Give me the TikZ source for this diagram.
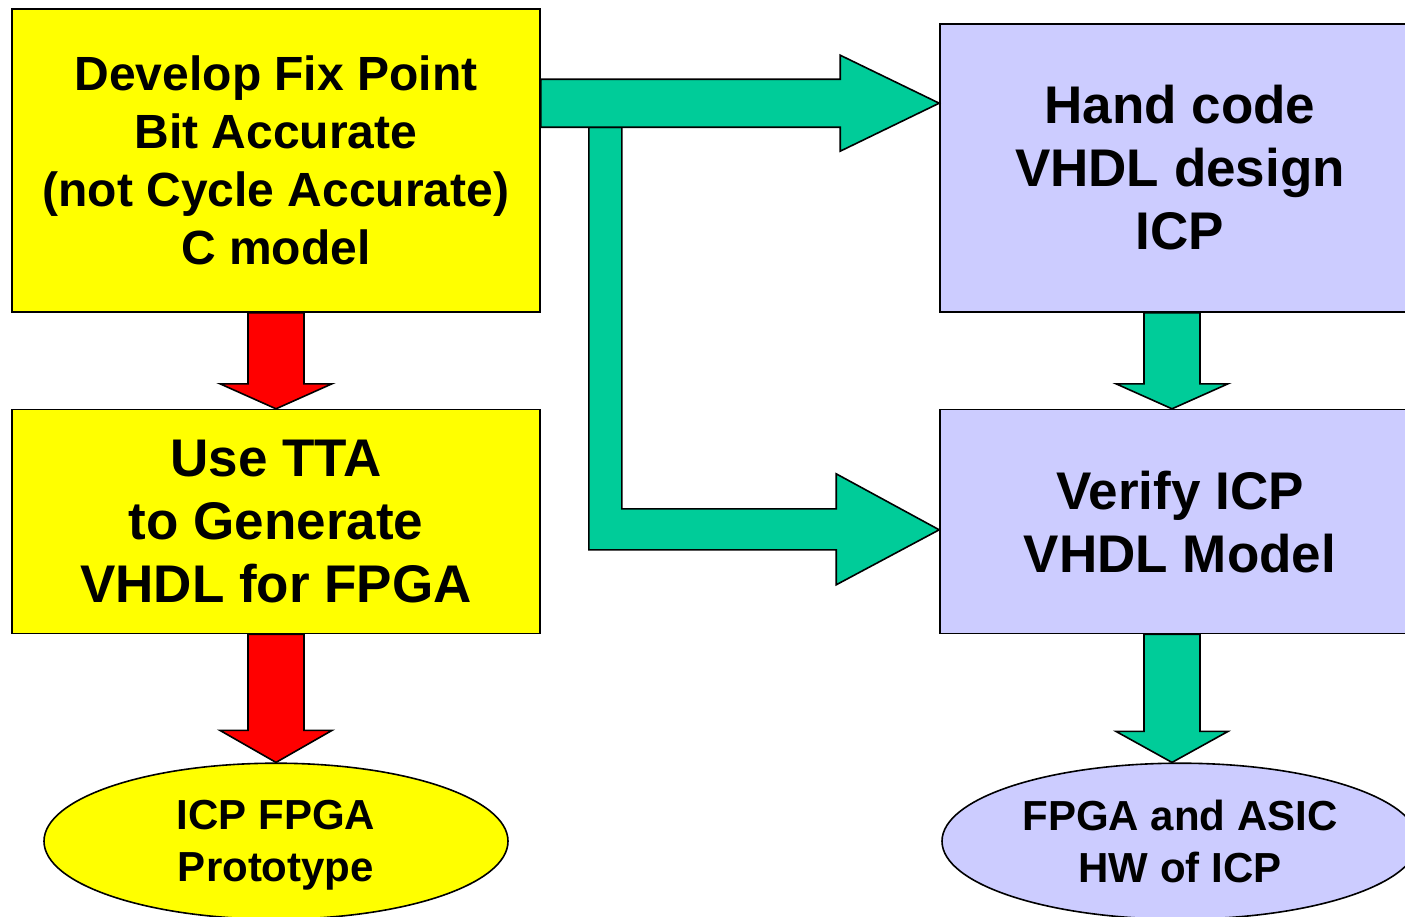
\documentclass[tikz,border=0pt]{standalone}
\usepackage{fontspec}
\setmainfont{Liberation Sans}
\usetikzlibrary{positioning,shapes.geometric,calc}
\definecolor{boxyellow}{HTML}{FFFF00}
\definecolor{boxblue}{HTML}{CCCCFF}
\definecolor{flowgreen}{HTML}{00CC99}
\definecolor{flowred}{HTML}{FF0000}
\def\gap{96pt}
\def\ovalgap{128pt}
\tikzstyle{stage}=[draw,rectangle,line width=1.6pt,align=center,inner sep=0pt]
\tikzstyle{result}=[draw,ellipse,line width=1.6pt,align=center,inner sep=0pt,minimum height=156pt,text depth=0pt]
\tikzstyle{blockarrow}=[draw,line width=1.6pt]
\tikzstyle{bigfont}=[font=\bfseries\fontsize{48}{58}\selectfont]
\tikzstyle{midfont}=[font=\bfseries\fontsize{53}{63}\selectfont]
\tikzstyle{smallfont}=[font=\bfseries\fontsize{42}{52}\selectfont]
\newcommand{\newStage}[4]{\node[#3](#1)[#4]{#2};}
% from, to, colour, head length, x shift
\newcommand{\newDownArrow}[5]{\draw[blockarrow,fill=#3]
  ($(#1.south)+(#5-28,0)$) -- ($(#1.south)+(#5+28,0)$) -- ($(#2.north)+(#5+28,#4)$)
  -- ($(#2.north)+(#5+56,#4)$) -- ($(#2.north)+(#5,0)$) -- ($(#2.north)+(#5-56,#4)$)
  -- ($(#2.north)+(#5-28,#4)$) -- cycle;}

\begin{document}
\begin{tikzpicture}[x=1pt,y=1pt,node distance=\gap]
      \useasboundingbox (0,0) rectangle (1405,-916);
      % left column
      \newStage{develop}{Develop Fix Point\\Bit Accurate\\(not Cycle Accurate)\\C model}{stage,fill=boxyellow,bigfont,minimum width=528pt,minimum height=303pt}{at={(276,-160.5)}}
      \newStage{usetta}{Use TTA\\to Generate\\VHDL for FPGA}{stage,fill=boxyellow,midfont,minimum width=528pt,minimum height=224pt}{below=of develop}
      \newStage{fpgaproto}{ICP FPGA\\Prototype}{result,fill=boxyellow,smallfont,minimum width=464pt}{below=\ovalgap of usetta}
      % right column
      \newStage{handcode}{Hand code\\VHDL design\\ICP}{stage,fill=boxblue,midfont,minimum width=480pt,minimum height=288pt}{at={(1180,-168)}}
      \newStage{verify}{Verify ICP\\VHDL Model}{stage,fill=boxblue,midfont,minimum width=480pt,minimum height=224pt}{below=of handcode}
      \newStage{asichw}{FPGA and ASIC\\HW of ICP}{result,fill=boxblue,smallfont,minimum width=476pt}{below=\ovalgap of verify}
      \newDownArrow{develop}{usetta}{flowred}{25}{0}
      \newDownArrow{usetta}{fpgaproto}{flowred}{32}{0}
      \newDownArrow{handcode}{verify}{flowgreen}{25}{-8}
      \newDownArrow{verify}{asichw}{flowgreen}{31}{-8}
      % across
      \coordinate (handtip) at ($(handcode.north west)+(0,-80)$);
      \coordinate (verifytip) at ($(verify.north west)+(0,-121)$);
      \draw[blockarrow,fill=flowgreen] ($(develop.east |- handtip)+(48,-24)$) -- ($(develop.east |- handtip)+(81,-24)$)
        -- ($(develop.east |- verifytip)+(81,21)$) -- ($(verifytip)+(-103,21)$) -- ($(verifytip)+(-103,56)$)
        -- (verifytip) -- ($(verifytip)+(-103,-55)$) -- ($(verifytip)+(-103,-20)$)
        -- ($(develop.east |- verifytip)+(48,-20)$) -- cycle;
      \draw[blockarrow,fill=flowgreen] ($(develop.east |- handtip)+(0,24)$) -- ($(handtip)+(-99,24)$)
        -- ($(handtip)+(-99,48)$) -- (handtip) -- ($(handtip)+(-99,-48)$) -- ($(handtip)+(-99,-24)$)
        -- ($(develop.east |- handtip)+(0,-24)$) -- cycle;
\end{tikzpicture}
\end{document}
